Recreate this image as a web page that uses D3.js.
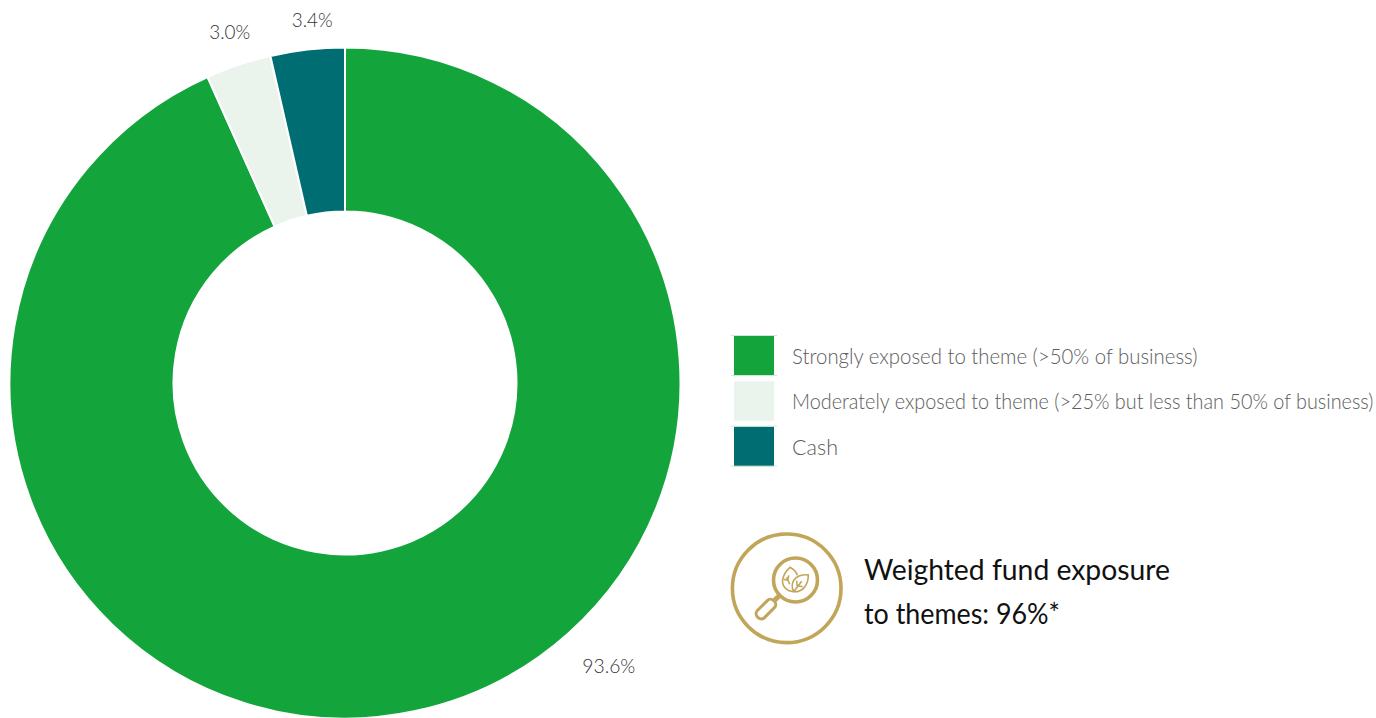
<!DOCTYPE html>
<html>
<head>
<meta charset="utf-8">
<script src="https://cdn.jsdelivr.net/npm/d3@7"></script>
<style>
  html, body { margin: 0; padding: 0; background: #fff; }
  svg { display: block; }
  text { font-family: Lato, "Open Sans", sans-serif; }
</style>
</head>
<body>
<svg id="chart" width="1376" height="718"></svg>
<script>
// Data
const categories = [
    "Strongly exposed to theme (>50% of business)",
    "Moderately exposed to theme (>25% but less than 50% of business)",
    "Cash"
]
const valueLabels = ["93.6%", "3.0%", "3.4%"]
// arc sizes, they run a bit off the printed labels
const arcShares = [93.28, 3.15, 3.57]
const colors = ["#13a53c", "#eaf4ec", "#006d72"]
const noteLines = ["Weighted fund exposure", "to themes: 96%*"]

const gold = "#c1a558"
const svg = d3.select('#chart')

// Donut
const cx = 345, cy = 383
const outerR = 335.5, innerR = 171.5

const pie = d3.pie().sort(null).value(d => d)
const arc = d3.arc().innerRadius(innerR).outerRadius(outerR)

const donut = svg.append('g').attr('transform', `translate(${cx}, ${cy})`)
const slices = pie(arcShares)

donut.selectAll('path')
    .data(slices)
    .enter()
    .append('path')
    .attr('d', arc)
    .attr('fill', (d, i) => colors[i])
    .attr('stroke', '#fff')
    .attr('stroke-width', 2)

// value labels sit outside the ring, the big one is pushed round to the lower right
const labelRadius = 355
const labelAngle = [0.7495, null, null]
const labelNudge = [[-9.5, 10], [-2.5, -14], [7, -10]]
const labelWidths = [53, 41, 41]

donut.selectAll('text')
    .data(slices)
    .enter()
    .append('text')
    .attr('transform', (d, i) => {
        const a = labelAngle[i] !== null ? labelAngle[i] * Math.PI : (d.startAngle + d.endAngle) / 2
        const r = i === 0 ? 386 : labelRadius
        const x = Math.sin(a) * r + labelNudge[i][0]
        const y = -Math.cos(a) * r + labelNudge[i][1]
        return `translate(${x}, ${y})`
    })
    .attr('dy', '0.35em')
    .attr('text-anchor', 'middle')
    .attr('font-size', 20)
    .attr('font-weight', 300)
    .attr('fill', '#333')
    .attr('textLength', (d, i) => labelWidths[i])
    .attr('lengthAdjust', 'spacingAndGlyphs')
    .text((d, i) => valueLabels[i])

// Legend
const legendY = d3.scaleBand()
    .domain(categories)
    .range([334, 470])
    .paddingInner(0)

const legendWidths = [406, 582, 46]

const rows = svg.append('g')
    .selectAll('g')
    .data(categories)
    .enter()
    .append('g')
    .attr('transform', d => `translate(734, ${legendY(d)})`)

rows.append('rect')
    .attr('x', 0)
    .attr('y', 2)
    .attr('width', 40)
    .attr('height', 39.5)
    .attr('fill', (d, i) => colors[i])

rows.filter((d, i) => i !== 1).each(function () {
    d3.select(this).selectAll('line')
        .data([1.5, 41.5])
        .enter()
        .append('line')
        .attr('x1', -3)
        .attr('x2', 43)
        .attr('y1', d => d)
        .attr('y2', d => d)
        .attr('stroke', '#cfe8d6')
        .attr('stroke-width', 1)
})

// squeeze each legend line to the width it has in the picture
rows.append('text')
    .attr('font-size', 22)
    .attr('font-weight', 300)
    .attr('fill', '#5c5d60')
    .text(d => d)
    .each(function (d, i) {
        const sx = legendWidths[i] / this.getComputedTextLength()
        d3.select(this).attr('transform', `translate(58, 30) scale(${sx}, 1)`)
    })

// Icon next to the note
const icon = svg.append('g')
    .attr('transform', 'translate(786.7, 588.3)')
    .attr('fill', 'none')
    .attr('stroke', gold)

icon.append('circle').attr('r', 54.3).attr('stroke-width', 3.6)
icon.append('circle').attr('cx', 8.8).attr('cy', -8.3).attr('r', 22).attr('stroke-width', 3.6)
// handle
icon.append('rect')
    .attr('x', -31)
    .attr('y', -5)
    .attr('width', 23)
    .attr('height', 10)
    .attr('rx', 4.5)
    .attr('stroke-width', 3)
    .attr('transform', 'translate(-7, 7) rotate(-45)')
icon.append('path')
    .attr('d', 'M-12,12 L-7,7')
    .attr('stroke-width', 5)
// leaves
icon.append('path')
    .attr('d', 'M7,3.5 C-1,3 -5,-3 -4,-9 C-3,-14 0,-18 3.3,-21 C7,-19 10,-16 10.5,-13')
    .attr('stroke-width', 1.6)
icon.append('path')
    .attr('d', 'M7,3.5 C3,-5 7,-14 21.5,-13.5 C22,-5 17,4 7,3.5 Z M7,3.5 L15,-7 M10.5,-2 L10,-7.5 M11,-2.5 L16,-1.5 M3,-4 L0,-11 M1,-8 L-3,-9 M1,-8 L2,-13')
    .attr('stroke-width', 1.6)

// Note
const noteWidths = [306, 196]
svg.append('g')
    .selectAll('text')
    .data(noteLines)
    .enter()
    .append('text')
    .attr('x', 864)
    .attr('y', (d, i) => 580 + i * 44)
    .attr('font-size', 29)
    .attr('fill', '#111')
    .attr('textLength', (d, i) => noteWidths[i])
    .attr('lengthAdjust', 'spacingAndGlyphs')
    .text(d => d)
</script>
</body>
</html>
